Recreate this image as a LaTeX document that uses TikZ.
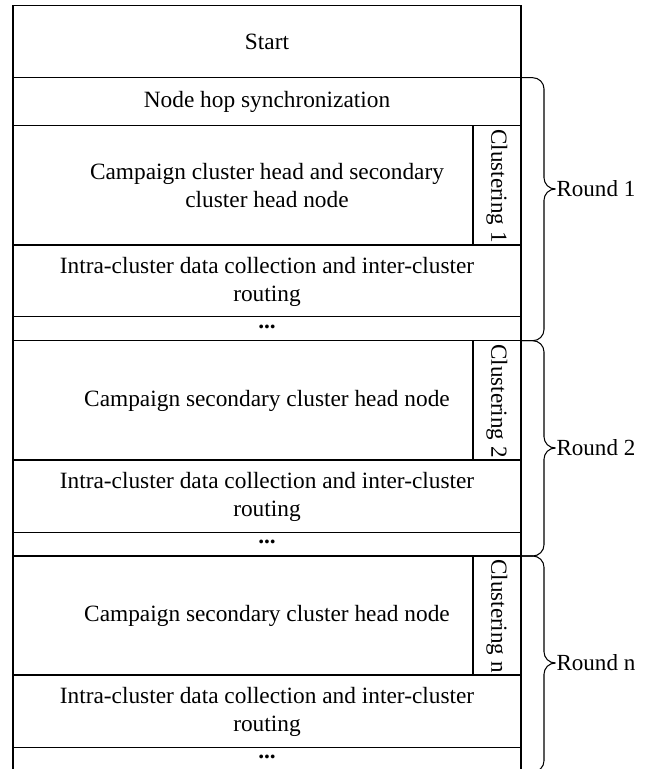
\documentclass[tikz,border=0pt]{standalone}
\usepackage{fontspec}
\setmainfont{Liberation Serif}
\def\roundbrace(#1:#2:#3){\draw[rounded corners=8pt] (521, #1) -- (544, #1) -- (544, #2) -- (553, #2);
	\draw[rounded corners=8pt] (553, #2) -- (544, #2) -- (544, #3) -- (521, #3);}
\tikzset{
	boxtext/.style={font=\fontsize{16.6}{19.5}\selectfont, align=center, inner sep=0pt},
	sidetext/.style={font=\fontsize{16.4}{19}\selectfont, rotate=-90, inner sep=0pt},
	roundtext/.style={font=\fontsize{16.4}{19}\selectfont, anchor=west, inner sep=0pt}
}

\begin{document}
\begin{tikzpicture}[x=0.025cm, y=-0.025cm, line width=0.75pt]
		%%%%% START %%%%%
		\useasboundingbox (0, 0) rectangle (656, 769);
		
		\draw (13, 780) -- (13, 5.7) -- (521, 5.7) -- (521, 780);
		\draw (13, 77.7) -- (521, 77.7);
		\draw (13, 125.7) -- (521, 125.7);
		\node[boxtext] (start) at (267, 41.7) {Start};
		\node[boxtext] (hop) at (267, 101.7) {Node hop synchronization};
		
		% round 1
		\draw (473, 125.7) -- (473, 245);
		\draw (13, 245) -- (521, 245);
		\draw (13, 316.7) -- (521, 316.7);
		\draw (13, 340.7) -- (521, 340.7);
		\node[boxtext] (elect1) at (267, 185.4) {Campaign cluster head and secondary\\cluster head node};
		\node[sidetext] (clus1) at (497, 186) {Clustering 1};
		\node[boxtext] (route1) at (267, 282) {Intra-cluster data collection and inter-cluster\\routing};
		\node[boxtext] (more1) at (267, 326.5) {\textbf{...}};
		
		% round 2
		\draw (473, 340.7) -- (473, 460);
		\draw (13, 460) -- (521, 460);
		\draw (13, 532.3) -- (521, 532.3);
		\draw (13, 556) -- (521, 556);
		\node[boxtext] (elect2) at (267, 401) {Campaign secondary cluster head node};
		\node[sidetext] (clus2) at (497, 401) {Clustering 2};
		\node[boxtext] (route2) at (267, 497) {Intra-cluster data collection and inter-cluster\\routing};
		\node[boxtext] (more2) at (267, 542) {\textbf{...}};
		
		% round n
		\draw (473, 556) -- (473, 675);
		\draw (13, 675) -- (521, 675);
		\draw (13, 747.3) -- (521, 747.3);
		\node[boxtext] (elect3) at (267, 616) {Campaign secondary cluster head node};
		\node[sidetext] (clus3) at (497, 616) {Clustering n};
		\node[boxtext] (route3) at (267, 712) {Intra-cluster data collection and inter-cluster\\routing};
		\node[boxtext] (more3) at (267, 757) {\textbf{...}};
		
		% braces
		\roundbrace(77.7:189:340.7)
		\roundbrace(340.7:448:556)
		\roundbrace(556:663:772)
		\node[roundtext] (round1) at (556, 189) {Round 1};
		\node[roundtext] (round2) at (556, 448) {Round 2};
		\node[roundtext] (round3) at (556, 663) {Round n};
		
		%%%%% END %%%%%
	\end{tikzpicture}
\end{document}
